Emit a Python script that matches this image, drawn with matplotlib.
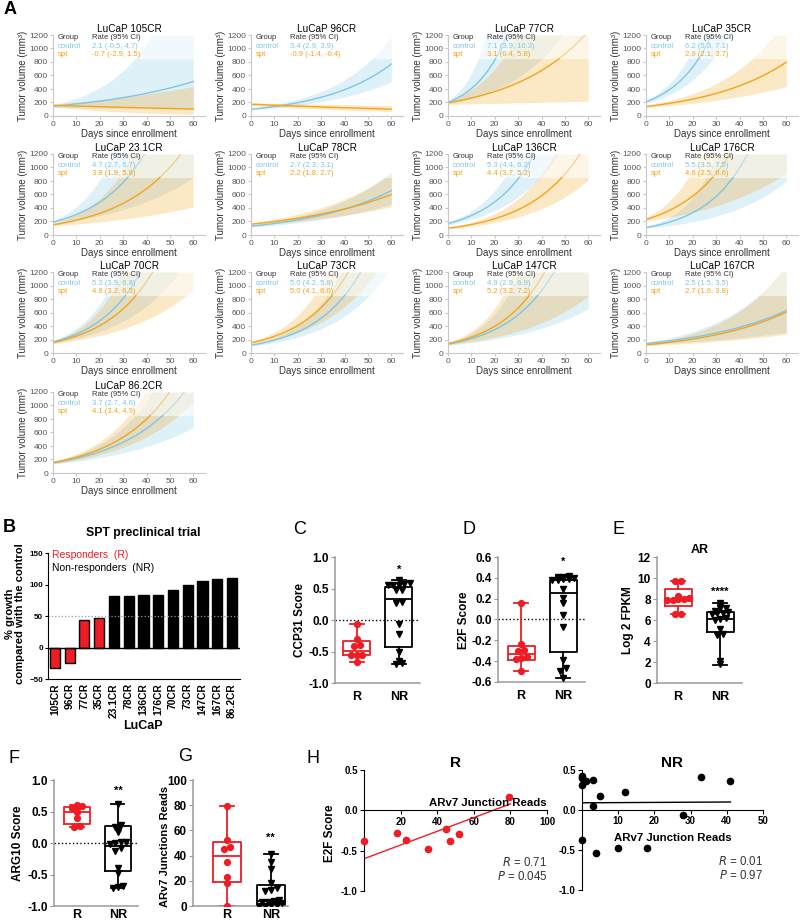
import numpy as np
import matplotlib
matplotlib.use('Agg')
import matplotlib.pyplot as plt

plt.rcParams['font.family'] = ['Liberation Sans', 'DejaVu Sans']

W, H = 800, 922
fig = plt.figure(figsize=(8, 9.22), dpi=100)


def box(l, t, r, b):
    return fig.add_axes([l / W, 1 - b / H, (r - l) / W, (b - t) / H])


def ftext(x, y, s, **kw):
    fig.text(x / W, 1 - y / H, s, **kw)


## ---------------- Panel A data ----------------
models = ['LuCaP 105CR', 'LuCaP 96CR', 'LuCaP 77CR', 'LuCaP 35CR',
          'LuCaP 23.1CR', 'LuCaP 78CR', 'LuCaP 136CR', 'LuCaP 176CR',
          'LuCaP 70CR', 'LuCaP 73CR', 'LuCaP 147CR', 'LuCaP 167CR',
          'LuCaP 86.2CR']
ctrl_start = [145, 100, 200, 210, 190, 130, 170, 110, 165, 115, 130, 140, 150]
ctrl_rate = [2.1, 3.4, 7.1, 6.2, 4.7, 2.7, 5.3, 5.5, 5.3, 5.0, 4.9, 2.5, 3.7]
ctrl_lo = [-0.5, 2.9, 3.9, 5.3, 2.7, 2.3, 4.4, 3.5, 3.9, 4.2, 2.9, 1.5, 2.7]
ctrl_hi = [4.7, 3.9, 10.3, 7.1, 6.7, 3.1, 6.2, 7.5, 6.8, 5.8, 6.9, 3.5, 4.6]
spt_start = [158, 175, 195, 140, 150, 160, 100, 230, 155, 150, 140, 120, 155]
spt_rate = [-0.7, -0.9, 3.1, 2.9, 3.8, 2.2, 4.4, 4.6, 4.8, 5.0, 5.2, 2.7, 4.1]
spt_lo = [-2.9, -1.4, 0.4, 2.1, 1.9, 1.8, 3.7, 2.5, 3.2, 4.1, 3.2, 1.6, 3.4]
spt_hi = [1.5, -0.4, 5.8, 3.7, 5.8, 2.7, 5.2, 6.6, 6.5, 6.0, 7.2, 3.8, 4.9]

## ---------------- Panel B data ----------------
lucap = ['105CR', '96CR', '77CR', '35CR', '23.1CR', '78CR', '136CR', '176CR',
         '70CR', '73CR', '147CR', '167CR', '86.2CR']
growth = [-33, -25, 44, 47, 82, 82, 83, 84, 91, 100, 106, 109, 110]
responder = [True, True, True, True] + [False] * 9

## ---------------- Panels C-G data (points + box stats: min, q1, med, q3, max) ----
ccp_r = [-0.07, -0.30, -0.40, -0.42, -0.55, -0.55, -0.56, -0.66]
ccp_nr = [0.63, 0.58, 0.57, 0.56, 0.55, 0.55, 0.48, 0.47, 0.29, 0.27,
          -0.07, -0.23, -0.50, -0.65, -0.68, -0.70]
ccp_box_r = [-0.66, -0.56, -0.49, -0.33, -0.07]
ccp_box_nr = [-0.70, -0.43, 0.33, 0.53, 0.63]

e2f_r = [0.16, -0.24, -0.29, -0.30, -0.36, -0.37, -0.38, -0.49]
e2f_nr = [0.42, 0.41, 0.41, 0.40, 0.39, 0.39, 0.38, 0.38, 0.29, 0.21, 0.16,
          0.04, -0.07, -0.39, -0.47, -0.49, -0.56]
e2f_box_r = [-0.49, -0.39, -0.33, -0.25, 0.16]
e2f_box_nr = [-0.56, -0.31, 0.25, 0.38, 0.42]

ar_r = [9.7, 9.7, 8.3, 8.1, 8.0, 7.9, 7.9, 8.0, 6.6, 6.6]
ar_nr = [7.6, 7.3, 7.1, 7.1, 6.9, 6.8, 6.7, 6.7, 6.6, 6.2, 6.1, 6.0, 5.1,
         4.7, 4.6, 2.1, 1.8]
ar_box_r = [6.6, 7.3, 7.9, 9.0, 9.7]
ar_box_nr = [1.7, 4.9, 6.1, 6.8, 7.6]

arg_r = [0.60, 0.59, 0.56, 0.55, 0.49, 0.40, 0.27, 0.26]
arg_nr = [0.62, 0.28, 0.26, 0.22, 0.18, 0.02, 0.01, 0.00, -0.01, -0.08,
          -0.12, -0.40, -0.48, -0.68, -0.70, -0.72]
arg_box_r = [0.25, 0.30, 0.50, 0.57, 0.60]
arg_box_nr = [-0.72, -0.45, -0.04, 0.27, 0.62]

arv7_r = [79, 52, 47, 45, 35, 23, 18, 0]
arv7_nr = [41, 35, 29, 18, 14, 13, 12, 5, 4, 3, 3, 2, 1, 1, 0, 0]
arv7_box_r = [0, 19, 40, 51, 79]
arv7_box_nr = [0, 1, 4, 17, 41]

## ---------------- Panel H data ----------------
h_r_reads = [0, 18, 23, 35, 45, 47, 52, 79]
h_r_e2f = [-0.38, -0.28, -0.37, -0.48, -0.23, -0.38, -0.29, 0.16]
h_r_fit_x = [0, 80]
h_r_fit_y = [-0.60, 0.08]
h_nr_reads = [0, 0, 0, 1, 3, 5, 12, 3, 28, 33, 41, 0, 4, 10, 18]
h_nr_e2f = [0.43, 0.40, 0.31, 0.36, 0.37, 0.17, 0.22, 0.05, -0.06, 0.41,
            0.36, -0.38, -0.54, -0.47, -0.47]
h_nr_fit_x = [0, 41]
h_nr_fit_y = [0.09, 0.10]

blue = '#7fc6e6'
orange = '#f3a41b'
red = '#ee1c25'
grey = '#9a9a9a'

## ================= Panel A =================
cap = 850
days = np.linspace(0, 60, 601)
a_left = [53, 251, 448, 646]
a_top = [35, 154, 272, 392]
for i, name in enumerate(models):
    r, c = divmod(i, 4)
    ax = box(a_left[c], a_top[r], a_left[c] + 152, a_top[r] + 81)
    groups = [(ctrl_start[i], ctrl_rate[i], ctrl_lo[i], ctrl_hi[i], blue),
              (spt_start[i], spt_rate[i], spt_lo[i], spt_hi[i], orange)]
    for v0, rate, lo, hi, col in groups:
        fit = v0 * np.exp(rate / 100 * days)
        low = v0 * np.exp(lo / 100 * days - 0.12)
        high = v0 * np.exp(hi / 100 * days + 0.12)
        ax.fill_between(days, np.minimum(low, cap), np.minimum(high, cap),
                        color=col, alpha=0.25, lw=0)
        ax.fill_between(days, np.clip(low, cap, 1200), np.clip(high, cap, 1200),
                        color=col, alpha=0.1, lw=0)
        ax.plot(days, np.where(fit <= cap, fit, np.nan), color=col, lw=1)
        ax.plot(days, np.where(fit >= cap, fit, np.nan), color=col, lw=1, alpha=0.4)

    tk = dict(transform=ax.transAxes, fontsize=5.5, va='center')
    ax.text(0.03, 0.963, 'Group', color='#333333', **tk)
    ax.text(0.257, 0.963, 'Rate (95% CI)', color='#333333', **tk)
    ax.text(0.03, 0.852, 'control', color=blue, **tk)
    ax.text(0.257, 0.852, f'{ctrl_rate[i]:.1f} ({ctrl_lo[i]:.1f}, {ctrl_hi[i]:.1f})',
            color=blue, **tk)
    ax.text(0.03, 0.765, 'spt', color=orange, **tk)
    ax.text(0.257, 0.765, f'{spt_rate[i]:.1f} ({spt_lo[i]:.1f}, {spt_hi[i]:.1f})',
            color=orange, **tk)

    ax.set_xlim(0, 65)
    ax.set_ylim(0, 1200)
    ax.set_xticks(range(0, 61, 10))
    ax.set_yticks(range(0, 1201, 200))
    for s in ['top', 'right']:
        ax.spines[s].set_visible(False)
    for s in ['left', 'bottom']:
        ax.spines[s].set_color('#c8c8c8')
    ax.tick_params(labelsize=6, labelcolor='#555555', color='#c8c8c8', length=2.5, pad=1)
    ax.set_title(name, fontsize=7.2, pad=2)
    ax.set_xlabel('Days since enrollment', fontsize=7, color='#333333', labelpad=1)
    ax.set_ylabel('Tumor volume (mm³)', fontsize=7, color='#333333', labelpad=1)

ftext(4, 9, 'A', fontsize=13, weight='bold', va='center')

## ================= Panel B =================
ax = box(48, 553, 240, 679)
xb = np.arange(len(lucap))
ax.bar(xb, growth, width=0.68, color=[red if rr else 'black' for rr in responder],
       edgecolor='black', lw=1)
ax.axhline(0, color='black', lw=1)
ax.axhline(50, color=grey, lw=0.9, ls=':')
ax.set_xlim(-0.47, 12.54)
ax.set_ylim(-50, 150)
ax.set_yticks([-50, 0, 50, 100, 150])
ax.set_xticks(xb)
ax.set_xticklabels(lucap, rotation=90, fontsize=7.4, weight='bold')
ax.tick_params(axis='y', labelsize=5.8, length=2.5, pad=1)
for lab in ax.get_yticklabels():
    lab.set_weight('bold')
ax.tick_params(axis='x', length=0, pad=3)
for s in ['top', 'right']:
    ax.spines[s].set_visible(False)
ftext(143, 533, 'SPT preclinical trial', fontsize=8.8, weight='bold', ha='center', va='center')
ftext(52, 555, 'Responders  (R)', fontsize=7.5, color=red, va='center')
ftext(52, 568, 'Non-responders  (NR)', fontsize=7.5, va='center')
ftext(143, 726, 'LuCaP', fontsize=9, weight='bold', ha='center', va='center')
ftext(15, 614, '% growth\ncompared with the control', fontsize=8.1, weight='bold',
      rotation=90, ha='center', va='center', multialignment='center', linespacing=1.0)
ftext(3, 527, 'B', fontsize=13, weight='bold', va='center')


## ================= Panels C-G =================
def swarm(vals, centre, tol, dx=0.13):
    vals = np.asarray(vals, float)
    order = np.argsort(vals)
    xs = np.full(len(vals), float(centre))
    groups, cur = [], [order[0]]
    for k in order[1:]:
        if vals[k] - vals[cur[0]] < tol:
            cur.append(k)
        else:
            groups.append(cur)
            cur = [k]
    groups.append(cur)
    for g in groups:
        n = len(g)
        for j, k in enumerate(g):
            xs[k] = centre + (j - (n - 1) / 2) * dx
    return xs


def dotbox(ax, r_vals, nr_vals, r_box, nr_box, ylim, yticks, fmt, tol, zero_line, star, star_y,
           xpad=6):
    for pos, vals, st, col, mk in [(1, r_vals, r_box, red, 'o'), (2, nr_vals, nr_box, 'black', 'v')]:
        lp = dict(color=col, lw=1.3)
        ax.bxp([dict(whislo=st[0], q1=st[1], med=st[2], q3=st[3], whishi=st[4])],
               positions=[pos], widths=0.64, showfliers=False, boxprops=lp,
               whiskerprops=lp, capprops=lp, medianprops=lp)
        ax.plot(swarm(vals, pos, tol), vals, mk, color=col, ms=4.2, ls='none', zorder=3)
    if zero_line:
        ax.axhline(0, color='black', lw=1, ls=':', zorder=1)
    ax.text(2, star_y, star, fontsize=8, weight='bold', ha='center', va='center')
    ax.set_ylim(*ylim)
    ax.set_yticks(yticks)
    ax.set_yticklabels([fmt % v for v in yticks], fontsize=8.5, weight='bold')
    ax.set_xticks([1, 2])
    ax.set_xticklabels(['R', 'NR'], fontsize=9, weight='bold')
    ax.tick_params(axis='x', length=0, pad=xpad)
    ax.tick_params(axis='y', color=grey, length=3, pad=1.5)
    for s in ['top', 'right']:
        ax.spines[s].set_visible(False)
    for s in ['left', 'bottom']:
        ax.spines[s].set_color(grey)
        ax.spines[s].set_linewidth(1.1)


ax = box(335, 557, 420, 683)
ax.set_xlim(0.48, 2.5)
dotbox(ax, ccp_r, ccp_nr, ccp_box_r, ccp_box_nr, (-1, 1), [-1, -0.5, 0, 0.5, 1], '%.1f',
       0.04, True, '*', 0.8)
ftext(300, 620, 'CCP31 Score', fontsize=8.5, weight='bold', rotation=90, ha='center', va='center')
ftext(293, 530, 'C', fontsize=13, va='center')

ax = box(498, 557, 585, 682)
ax.set_xlim(0.45, 2.52)
dotbox(ax, e2f_r, e2f_nr, e2f_box_r, e2f_box_nr, (-0.6, 0.6),
       [-0.6, -0.4, -0.2, 0, 0.2, 0.4, 0.6], '%.1f', 0.025, True, '*', 0.55)
ftext(464, 620, 'E2F Score', fontsize=8.5, weight='bold', rotation=90, ha='center', va='center')
ftext(463, 530, 'D', fontsize=13, va='center')

ax = box(657, 557, 742, 683)
ax.set_xlim(0.5, 2.52)
dotbox(ax, ar_r, ar_nr, ar_box_r, ar_box_nr, (0, 12), [0, 2, 4, 6, 8, 10, 12], '%d',
       0.25, False, '****', 8.7)
ax.set_title('AR', fontsize=9, weight='bold', pad=3)
ftext(628, 620, 'Log 2 FPKM', fontsize=8.5, weight='bold', rotation=90, ha='center', va='center')
ftext(613, 530, 'E', fontsize=13, va='center')

ax = box(54, 780, 138, 906)
ax.set_xlim(0.44, 2.49)
dotbox(ax, arg_r, arg_nr, arg_box_r, arg_box_nr, (-1, 1), [-1, -0.5, 0, 0.5, 1], '%.1f',
       0.04, True, '**', 0.82, xpad=2.5)
ftext(18, 843, 'ARG10 Score', fontsize=8.5, weight='bold', rotation=90, ha='center', va='center')
ftext(8, 758, 'F', fontsize=13, va='center')

ax = box(193, 780, 288, 906)
ax.set_xlim(0.23, 2.39)
dotbox(ax, arv7_r, arv7_nr, arv7_box_r, arv7_box_nr, (0, 100), [0, 20, 40, 60, 80, 100], '%d',
       2.5, False, '**', 54, xpad=2.5)
ftext(165, 846, 'ARv7 Junctions Reads', fontsize=8, weight='bold', rotation=90,
      ha='center', va='center')
ftext(178, 756, 'G', fontsize=13, va='center')


## ================= Panel H =================
def scatter_axes(ax, xmax, xticks):
    ax.set_xlim(0, xmax)
    ax.set_ylim(-1.0, 0.5)
    ax.spines['left'].set_position(('data', 0))
    ax.spines['bottom'].set_position(('data', 0))
    for s in ['top', 'right']:
        ax.spines[s].set_visible(False)
    ax.set_xticks(xticks)
    ax.set_yticks([-1, -0.5, 0, 0.5])
    ax.set_yticklabels(['-1.0', '-0.5', '0.0', '0.5'])
    ax.tick_params(labelsize=7, length=3, pad=1.5)
    for lab in ax.get_xticklabels() + ax.get_yticklabels():
        lab.set_weight('bold')


ax = box(364, 770, 547, 891)
scatter_axes(ax, 100, [20, 40, 60, 80, 100])
ax.plot(h_r_reads, h_r_e2f, 'o', color=red, ms=4.5, clip_on=False, zorder=3)
ax.plot(h_r_fit_x, h_r_fit_y, color=red, lw=1)
ax.text(100, 0.025, 'ARv7 Junction Reads', fontsize=8.2, weight='bold', ha='right', va='bottom')
ax.set_title('R', fontsize=11, weight='bold', pad=0)
ax.text(100, -0.73, '$R$ = 0.71\n$P$ = 0.045', fontsize=8.3, ha='right', va='center',
        linespacing=1.1, color='#333333')
ftext(330, 833, 'E2F Score', fontsize=8.5, weight='bold', rotation=90, ha='center', va='center')
ftext(307, 758, 'H', fontsize=13, va='center')

ax = box(582, 770, 763, 890)
scatter_axes(ax, 50, [10, 20, 30, 40, 50])
ax.plot(h_nr_reads, h_nr_e2f, 'o', color='black', ms=4.5, clip_on=False, zorder=3)
ax.plot(h_nr_fit_x, h_nr_fit_y, color='black', lw=1)
ax.text(25, -0.35, 'ARv7 Junction Reads', fontsize=8.2, weight='bold', ha='center', va='center')
ax.set_title('NR', fontsize=11, weight='bold', pad=0)
ax.text(50, -0.73, '$R$ = 0.01\n$P$ = 0.97', fontsize=8.3, ha='right', va='center',
        linespacing=1.1, color='#333333')

fig.savefig('out.png', dpi=100)
